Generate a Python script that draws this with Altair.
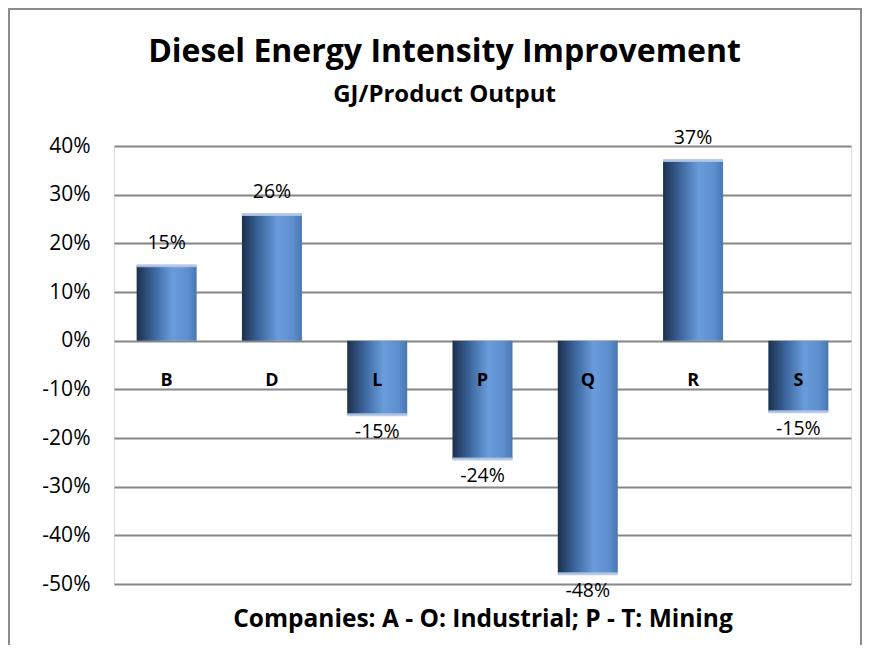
import altair as alt
import pandas as pd

companies = ["B", "D", "L", "P", "Q", "R", "S"]
improvement = [0.154, 0.259, -0.152, -0.243, -0.479, 0.370, -0.146]
y_ticks = [0.4, 0.3, 0.2, 0.1, 0.0, -0.1, -0.2, -0.3, -0.4, -0.5]

df = pd.DataFrame({"company": companies, "value": improvement})

FONT = "Open Sans"
PCT = "replace(format(datum.value, '.0%'), '\u2212', '-')"

gradient = alt.LinearGradient(
    gradient="linear",
    x1=0, y1=0, x2=1, y2=0,
    stops=[
        alt.GradientStop(color="#1c304d", offset=0),
        alt.GradientStop(color="#3d68a0", offset=0.3),
        alt.GradientStop(color="#6a9cdb", offset=0.6),
        alt.GradientStop(color="#5d8fcf", offset=0.85),
        alt.GradientStop(color="#4a77b0", offset=1),
    ],
)

x_enc = alt.X("company:N", sort=companies, title="Companies: A - O: Industrial; P - T: Mining",
              scale=alt.Scale(paddingInner=0.43, paddingOuter=0.215),
              axis=alt.Axis(labels=False, ticks=False, domain=False, grid=False,
                            titleFont=FONT, titleFontSize=24.5, titleFontWeight="bold",
                            titleColor="black", titlePadding=23))
y_scale = alt.Scale(domain=[-0.5, 0.4], nice=False, zero=False)

base = alt.Chart(df).transform_calculate(label=PCT)

bars = base.mark_bar(color=gradient).encode(
    x=x_enc,
    y=alt.Y("value:Q", scale=y_scale, title=None,
            axis=alt.Axis(values=y_ticks, labelExpr=PCT, domain=False, ticks=False,
                          labelFont=FONT, labelFontSize=21, labelColor="black",
                          labelPadding=24, gridColor="#868686", gridWidth=2.2,
                          gridOpacity=1)),
)

caps = base.mark_tick(color="#b2c7e4", thickness=3, size=60, opacity=0.9).encode(
    x=alt.X("company:N", sort=companies), y=alt.Y("value:Q", scale=y_scale)
)

pos_labels = base.transform_filter("datum.value >= 0").mark_text(
    font=FONT, fontSize=19.5, color="black", baseline="bottom", dy=-13
).encode(x=alt.X("company:N", sort=companies), y=alt.Y("value:Q", scale=y_scale),
         text="label:N")

neg_labels = base.transform_filter("datum.value < 0").mark_text(
    font=FONT, fontSize=19.5, color="black", baseline="top", dy=8
).encode(x=alt.X("company:N", sort=companies), y=alt.Y("value:Q", scale=y_scale),
         text="label:N")

cat_labels = base.mark_text(
    font=FONT, fontSize=18, fontWeight="bold", color="black", baseline="middle", dy=40
).encode(x=alt.X("company:N", sort=companies), y=alt.datum(0), text="company:N")

frame = base.mark_rect(fill=None, stroke="#8c8c8c", strokeWidth=2).encode(
    x=alt.value(-105), x2=alt.value(747), y=alt.value(-137), y2=alt.value(520)
)

chart = alt.layer(frame, bars, caps, pos_labels, neg_labels, cat_labels).properties(
    width=737,
    height=438,
    title=alt.TitleParams(
        text="Diesel Energy Intensity Improvement",
        subtitle="GJ/Product Output",
        font=FONT, fontSize=32, fontWeight="bold", color="black",
        subtitleFont=FONT, subtitleFontSize=24, subtitleFontWeight="bold",
        subtitleColor="black", subtitlePadding=14,
        anchor="middle", frame="group", dx=-38, offset=-100,
    ),
    autosize=alt.AutoSizeParams(type="none"),
    padding={"left": 106, "top": 138, "right": 11, "bottom": 61},
).configure_view(stroke=None).configure(background="white")

chart.save("out.html", embed_options={"renderer": "svg", "actions": False})
